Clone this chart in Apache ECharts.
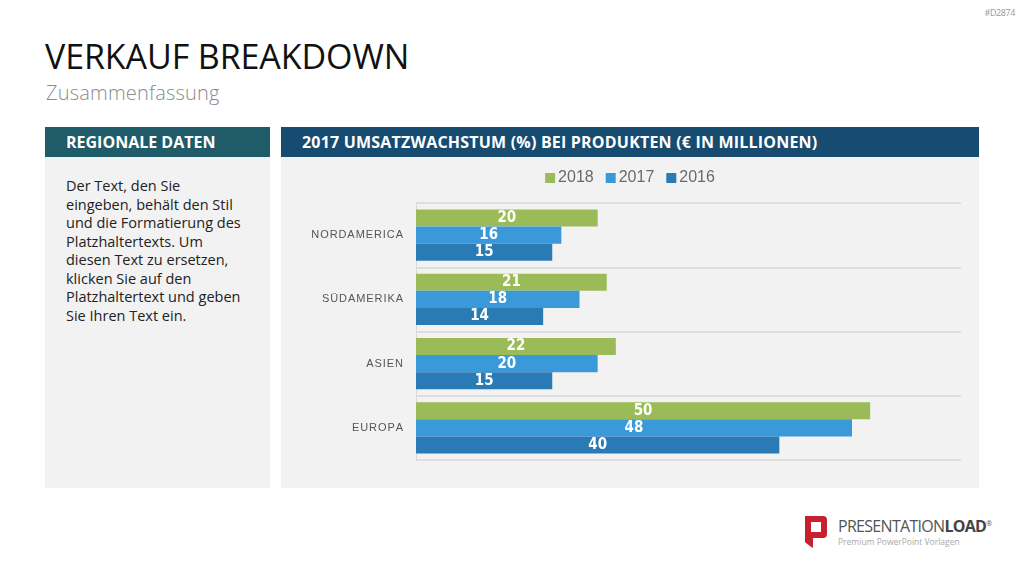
<!DOCTYPE html>
<html>
<head>
<meta charset="utf-8">
<script src="https://cdn.jsdelivr.net/npm/echarts@6/dist/echarts.min.js"></script>
<style>
  html, body { margin: 0; padding: 0; background: #fff; }
  body { width: 1024px; height: 576px; position: relative; overflow: hidden; font-family: 'Open Sans', 'Noto Sans', sans-serif; }
  .code { position: absolute; right: 9px; top: 6px; font-size: 9px; color: #999; letter-spacing: -0.4px; }
  .title { position: absolute; left: 45px; top: 33px; font-size: 34px; color: #111; letter-spacing: -0.1px; }
  .subtitle { position: absolute; left: 46px; top: 79px; font-size: 20px; color: #8a8a8a; font-weight: 300; letter-spacing: 0.2px; }
  .head { position: absolute; top: 127px; height: 30px; color: #fff; font-weight: bold; font-size: 16px; line-height: 30px; }
  .head.left { left: 45px; width: 225px; background: #1f5b68; padding-left: 21px; box-sizing: border-box; }
  .head.right { left: 281px; width: 698px; background: #174b70; padding-left: 21px; box-sizing: border-box; letter-spacing: 0.2px; }
  .panel { position: absolute; top: 157px; height: 331px; background: #f2f2f2; }
  .panel.left { left: 45px; width: 225px; }
  .panel.left p { margin: 0; position: absolute; left: 21px; top: 20px; font-size: 14.5px; line-height: 18.5px; color: #222; }
  #chart { position: absolute; left: 281px; top: 157px; width: 698px; height: 331px; }
  .logo { position: absolute; left: 803px; top: 514px; }
  .logo .brand { position: absolute; left: 35px; top: 1px; font-size: 16px; color: #555; white-space: nowrap; letter-spacing: -0.7px; }
  .logo .brand b { color: #444; }
  .logo .brand sup { font-size: 7px; }
  .logo .tag { position: absolute; left: 35px; top: 22px; font-size: 8.5px; color: #aaa; white-space: nowrap; }
</style>
</head>
<body>
<div class="code">#D2874</div>
<div class="title">VERKAUF BREAKDOWN</div>
<div class="subtitle">Zusammenfassung</div>

<div class="head left">REGIONALE DATEN</div>
<div class="panel left"><p>Der Text, den Sie<br>eingeben, behält den Stil<br>und die Formatierung des<br>Platzhaltertexts. Um<br>diesen Text zu ersetzen,<br>klicken Sie auf den<br>Platzhaltertext und geben<br>Sie Ihren Text ein.</p></div>

<div class="head right">2017 UMSATZWACHSTUM (%) BEI PRODUKTEN (€ IN MILLIONEN)</div>
<div class="panel right" style="left:281px;width:698px;"></div>
<div id="chart"></div>

<div class="logo">
  <svg width="26" height="36" viewBox="0 0 26 36">
    <path d="M2 2 H20 Q24 2 24 6 V20 Q24 24 20 24 H10 V34 Q4 30 2 28 Z" fill="#c8202f"/>
    <rect x="8" y="8" width="10" height="10" fill="#fff"/>
  </svg>
  <div class="brand">PRESENTATION<b>LOAD</b><sup>®</sup></div>
  <div class="tag">Premium PowerPoint Vorlagen</div>
</div>

<script>
// Kategorien von oben nach unten
const regions = ['NORDAMERICA', 'SÜDAMERIKA', 'ASIEN', 'EUROPA']
const years = ['2018', '2017', '2016']
const values2018 = [20, 21, 22, 50]
const values2017 = [16, 18, 20, 48]
const values2016 = [15, 14, 15, 40]
const colors = ['#9bbb59', '#3a99d9', '#2a7bb5']

const myChart = echarts.init(document.getElementById('chart'))

// Buchstabenabstand der Achsenbeschriftung
const spaced = (s) => s.split('').join('\u200A')

const barLabel = {
  show: true,
  position: 'inside',
  color: '#fff',
  fontSize: 15,
  fontWeight: 'bold',
  fontFamily: "'Liberation Sans Narrow', 'DejaVu Sans Condensed', 'Roboto', sans-serif"
}

const makeSeries = (name, data, color) => ({
  name,
  type: 'bar',
  data,
  barGap: '0%',
  barCategoryGap: '20%',
  itemStyle: { color },
  label: barLabel
})

myChart.setOption({
  animation: false,
  color: colors,
  legend: {
    top: 8,
    left: 'center',
    itemWidth: 10,
    itemHeight: 10,
    itemGap: 12,
    icon: 'rect',
    textStyle: { color: '#6a6a6a', fontSize: 16, padding: [0, 0, 0, -2] },
    data: years
  },
  grid: {
    left: 135,
    right: 18,
    top: 46,
    bottom: 28
  },
  xAxis: {
    type: 'value',
    min: 0,
    max: 60,
    show: false
  },
  yAxis: {
    type: 'category',
    inverse: true,
    data: regions,
    axisLine: { show: true, lineStyle: { color: '#d9d9d9', width: 1 } },
    axisTick: { show: false },
    splitLine: { show: true, lineStyle: { color: '#dedede', width: 2 } },
    axisLabel: {
      color: '#555',
      fontSize: 11,
      margin: 13,
      formatter: spaced
    }
  },
  series: [
    makeSeries(years[0], values2018, colors[0]),
    makeSeries(years[1], values2017, colors[1]),
    makeSeries(years[2], values2016, colors[2])
  ]
})
</script>
</body>
</html>
